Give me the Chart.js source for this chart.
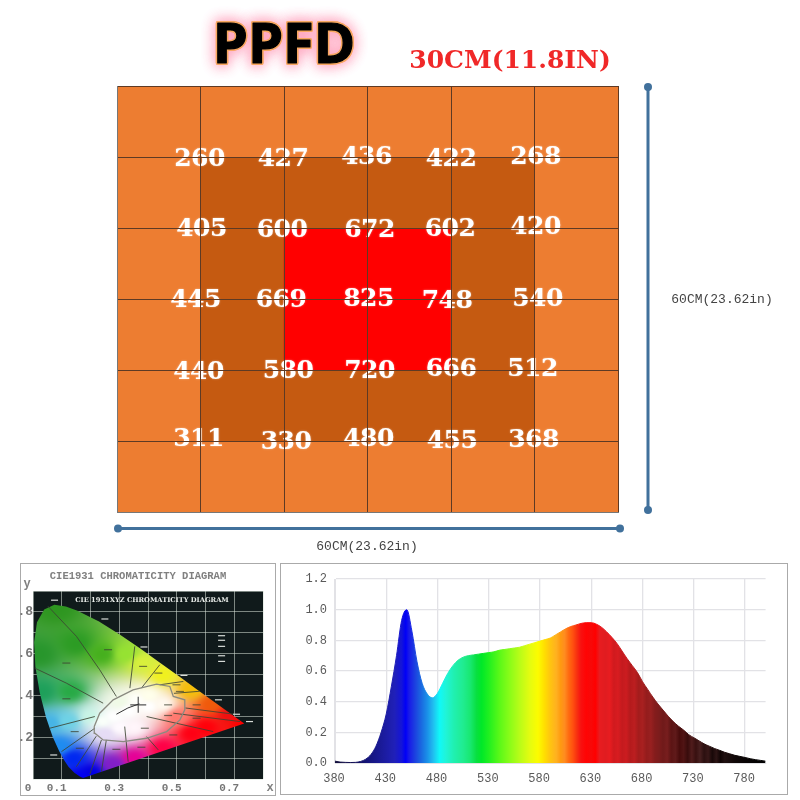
<!DOCTYPE html>
<html>
<head>
<meta charset="utf-8">
<title>PPFD</title>
<script src="https://cdn.jsdelivr.net/npm/chart.js@4/dist/chart.umd.min.js"></script>
<style>
    html, body { margin: 0; padding: 0; background: #fff; }
    body { position: relative; width: 800px; height: 800px; overflow: hidden; }
    canvas { position: absolute; display: block; }
    #ppfdChart { left: 0; top: 0; }
    #cieChart { left: 20px; top: 563px; filter: blur(0.5px); }
    #spectrumChart { left: 280px; top: 563px; filter: blur(0.3px); }
    .frame { position: absolute; border: 1.5px solid #aaa; box-sizing: border-box; }
</style>
</head>
<body>
<canvas id="ppfdChart" width="800" height="560"></canvas>
<div class="frame" style="left:20px;top:563px;width:256px;height:233px"></div>
<div class="frame" style="left:280px;top:563px;width:508px;height:232px"></div>
<canvas id="cieChart" width="255" height="232"></canvas>
<canvas id="spectrumChart" width="507" height="231"></canvas>
<script>
// PPFD readings, one per grid crossing
const ppfdRow1 = [260, 427, 436, 422, 268];
const ppfdRow2 = [405, 600, 672, 602, 420];
const ppfdRow3 = [445, 669, 825, 748, 540];
const ppfdRow4 = [440, 580, 720, 666, 512];
const ppfdRow5 = [311, 330, 480, 455, 368];
const ppfdRows = [ppfdRow1, ppfdRow2, ppfdRow3, ppfdRow4, ppfdRow5];

// cell shade level: 0 outer, 1 middle, 2 centre
const cellRow1 = [0, 0, 0, 0, 0, 0];
const cellRow2 = [0, 1, 1, 1, 1, 0];
const cellRow3 = [0, 1, 2, 2, 1, 0];
const cellRow4 = [0, 1, 2, 2, 1, 0];
const cellRow5 = [0, 1, 1, 1, 1, 0];
const cellRow6 = [0, 0, 0, 0, 0, 0];
const cellRows = [cellRow1, cellRow2, cellRow3, cellRow4, cellRow5, cellRow6];
const shadeColors = ['#ed7d31', '#c55a11', '#ff0000'];

// spectrum, relative intensity every 5 nm
const wavelengths = [380, 385, 390, 395, 400, 405, 410, 415, 420, 425, 430, 435, 440, 445, 450, 455, 460, 465, 470, 475, 480, 485, 490, 495, 500, 505, 510, 515, 520, 525, 530, 535, 540, 545, 550, 555, 560, 565, 570, 575, 580, 585, 590, 595, 600, 605, 610, 615, 620, 625, 630, 635, 640, 645, 650, 655, 660, 665, 670, 675, 680, 685, 690, 695, 700, 705, 710, 715, 720, 725, 730, 735, 740, 745, 750, 755, 760, 765, 770, 775, 780, 785, 790, 795, 800];
const intensity = [.012, .006, .004, .003, .004, .01, .025, .055, .11, .2, .32, .5, .7, .93, 1, .86, .66, .52, .45, .425, .455, .52, .585, .635, .67, .69, .7, .705, .71, .715, .72, .725, .735, .74, .745, .75, .755, .765, .775, .785, .795, .805, .815, .835, .855, .875, .89, .9, .91, .915, .915, .905, .885, .855, .82, .78, .73, .68, .635, .59, .53, .48, .43, .385, .345, .305, .27, .24, .215, .185, .165, .145, .125, .11, .095, .083, .07, .06, .05, .043, .036, .028, .022, .017, .012];
const spectrumXTicks = [380, 430, 480, 530, 580, 630, 680, 730, 780];
const spectrumYTicks = [0, 0.2, 0.4, 0.6, 0.8, 1.0, 1.2];

const bandNm = [380, 400, 412, 425, 438, 445, 449, 452, 458, 464, 470, 476, 482, 488, 496, 505, 512, 518, 523, 530, 540, 550, 560, 570, 578, 584, 590, 596, 600, 604, 608, 612, 616, 620, 625, 630, 634, 638, 644, 648, 652, 656, 660, 664, 668, 672, 676, 680, 684, 688, 692, 696, 700, 704, 708, 712, 716, 720, 724, 728, 732, 736, 740, 744, 748, 752, 756, 760, 770, 780, 800];
const bandColors = ['#14103c', '#12105a', '#14147a', '#1a1a98', '#2020b8', '#1414d8', '#0000f8', '#1818e8', '#1c40e0', '#1a68e0', '#1a90e8', '#20c0f0', '#10f8f8', '#20f4d8', '#20f0b0', '#20ec90', '#18e870', '#08e040', '#00e828', '#20f020', '#58f818', '#88fc18', '#b8fc18', '#e4fc10', '#fcfc00', '#ffe000', '#ffc410', '#ffb020', '#ff9a10', '#ff8c20', '#ff6a10', '#ff5010', '#f83010', '#f81010', '#ff0404', '#f80808', '#ff0000', '#e81c20', '#e01c20', '#e81c20', '#d01a1e', '#d81c20', '#c41a1e', '#cc1c20', '#b41a1c', '#bc1e20', '#a41c1c', '#a82020', '#941c1c', '#982020', '#841c1c', '#7c1c1c', '#701a1a', '#781e1e', '#5c1414', '#601a1a', '#480c0c', '#501414', '#380c0c', '#501c1c', '#381010', '#482020', '#2c1010', '#381818', '#180808', '#2c1414', '#100404', '#201010', '#100808', '#080404', '#000000'];

// CIE 1931 diagram
const locusX = [.1741, .1644, .1566, .144, .1241, .1096, .0913, .0687, .0454, .0235, .0082, .0039, .0139, .0389, .0743, .1142, .1547, .2296, .3016, .3731, .4441, .5125, .5752, .627, .6658, .6915, .7079, .726, .7347, .1741];
const locusY = [.005, .0109, .0177, .0297, .0578, .0868, .1327, .2007, .295, .4127, .5384, .6548, .7502, .812, .8338, .8262, .8059, .7543, .6923, .6245, .5547, .4866, .4242, .3725, .334, .3083, .292, .274, .2653, .005];
const whiteAreaX = [.213, .232, .279, .348, .43, .476, .488, .528, .528, .511, .465, .395, .314, .244, .215, .213];
const whiteAreaY = [.251, .315, .379, .427, .454, .443, .395, .379, .331, .283, .227, .195, .179, .187, .219, .251];
const regionLines = [
    [[.052, .827], [.151, .683], [.232, .523], [.29, .395]],
    [[.006, .531], [.116, .459], [.244, .363]],
    [[.354, .635], [.337, .435]],
    [[.441, .547], [.377, .435]],
    [[.523, .467], [.441, .451]],
    [[.58, .42], [.49, .41]],
    [[.058, .243], [.215, .299]],
    [[.099, .131], [.215, .243]],
    [[.22, .205], [.151, .059]],
    [[.238, .187], [.198, .024]],
    [[.255, .187], [.238, .035]],
    [[.319, .251], [.331, .083]],
    [[.395, .203], [.436, .139]],
    [[.488, .315], [.72, .275]],
    [[.395, .299], [.627, .227]],
    [[.53, .34], [.7, .31]]
];
const labelMarks = [[.261, .619], [.116, .555], [.116, .384], [.383, .539], [.436, .507], [.499, .451], [.511, .419], [.569, .355], [.569, .291], [.47, .304], [.47, .355], [.389, .243], [.145, .227], [.163, .147], [.29, .142], [.377, .152], [.488, .211]];
const whiteMarks = [[.656, .686], [.656, .664], [.656, .635], [.656, .59], [.656, .563], [.075, .856], [.25, .766], [.386, .632], [.525, .496], [.645, .379], [.708, .31], [.753, .275], [.072, .115]];
const planckian = [[.29, .31], [.33, .34], [.37, .36]];
const cieXLabels = [0, 0.1, 0.3, 0.5, 0.7];
const cieYLabels = [0.2, 0.4, 0.6, 0.8];

// colour anchors of the horseshoe: x, y, rgb
const cieAnchors = [
    [.08, .82, [46, 150, 32]], [.02, .6, [40, 150, 44]], [.15, .65, [44, 156, 36]], [.24, .6, [70, 176, 30]],
    [.32, .6, [150, 226, 50]], [.38, .56, [216, 240, 60]], [.45, .5, [240, 240, 30]], [.55, .43, [244, 190, 10]],
    [.62, .36, [240, 90, 10]], [.68, .31, [240, 16, 16]], [.73, .27, [255, 0, 0]], [.6, .25, [255, 0, 10]], [.55, .22, [255, 0, 20]],
    [.45, .15, [255, 0, 70]], [.35, .1, [230, 0, 150]], [.28, .07, [130, 30, 200]], [.2, .03, [0, 0, 225]],
    [.17, .01, [0, 0, 240]], [.14, .1, [0, 40, 240]], [.09, .16, [30, 140, 240]], [.06, .27, [70, 180, 230]],
    [.12, .28, [110, 210, 230]], [.03, .42, [30, 160, 90]], [.13, .42, [40, 170, 70]], [.2, .3, [200, 245, 230]],
    [.33, .33, [255, 255, 255]], [.28, .3, [255, 255, 255]], [.4, .35, [255, 255, 255]], [.45, .36, [255, 250, 240]],
    [.35, .25, [255, 245, 250]], [.4, .4, [255, 255, 235]], [.25, .22, [230, 220, 245]], [.5, .3, [255, 120, 110]],
    [.3, .37, [240, 250, 230]], [.36, .38, [255, 255, 250]], [.3, .25, [255, 250, 255]], [.24, .28, [250, 255, 250]]
];

const pts = (xs, ys) => xs.map((x, i) => ({ x: x, y: ys[i] }));
const pairs = (list) => list.map((p) => ({ x: p[0], y: p[1] }));
const monoFont = '"Liberation Mono", monospace';

// ---------- PPFD grid ----------
// small hand placement of the numbers around each crossing, px
const labelNudge = [
    [[-1, 2], [-1, 2], [-1, 0], [0, 2], [1, 0]],
    [[1, 1], [-2, 2], [2, 2], [-1, 1], [1, -1]],
    [[-5, 1], [-3, 1], [1, 0], [-4, 2], [3, 0]],
    [[-2, 2], [4, 1], [2, 1], [0, -1], [-2, -1]],
    [[-2, -2], [2, 1], [1, -2], [1, 0], [-1, -1]]
];

const ppfdDecor = {
    id: 'ppfdDecor',
    afterDatasetsDraw(chart) {
        const { ctx, scales: { x, y } } = chart;
        ctx.save();
        ctx.textAlign = 'center';
        ctx.textBaseline = 'middle';
        ctx.font = 'bold 25px "DejaVu Serif"';
        ctx.letterSpacing = '-0.6px';
        ppfdRows.forEach((row, r) => row.forEach((v, c) => {
            const n = labelNudge[r][c];
            ctx.shadowColor = 'rgba(255,255,255,0.5)';
            ctx.shadowBlur = 2;
            ctx.fillStyle = '#fff';
            ctx.fillText(v, x.getPixelForValue(c + 1) + n[0], y.getPixelForValue(r + 1) + n[1]);
        }));
        ctx.restore();
    },
    afterDraw(chart) {
        const { ctx, scales: { x, y } } = chart;
        ctx.save();
        // dimension lines
        const dim = (x0, y0, x1, y1) => {
            ctx.strokeStyle = ctx.fillStyle = '#41719c';
            ctx.lineWidth = 3;
            ctx.beginPath();
            ctx.moveTo(x0, y0);
            ctx.lineTo(x1, y1);
            ctx.stroke();
            [[x0, y0], [x1, y1]].forEach((p) => {
                ctx.beginPath();
                ctx.arc(p[0], p[1], 4, 0, Math.PI * 2);
                ctx.fill();
            });
        };
        dim(x.left + 1, y.bottom + 16.5, x.right + 2, y.bottom + 16.5);
        dim(x.right + 30, y.top + 1, x.right + 30, y.bottom - 2);

        ctx.textBaseline = 'alphabetic';
        ctx.textAlign = 'center';
        ctx.fillStyle = '#444';
        ctx.font = '13px ' + monoFont;
        ctx.fillText('60CM(23.62in)', 367, 550);
        ctx.fillText('60CM(23.62in)', 722, 303);

        ctx.fillStyle = '#f02828';
        ctx.font = 'bold 25px "DejaVu Serif"';
        ctx.fillText('30CM(11.8IN)', 510, 68);

        // title with halo
        ctx.font = 'bold 56px "Open Sans"';
        ctx.lineJoin = 'round';
        ctx.shadowColor = '#ff90b0';
        ctx.shadowBlur = 14;
        ctx.strokeStyle = '#f8a860';
        ctx.lineWidth = 4;
        ctx.strokeText('PPFD', 284, 63);
        ctx.strokeText('PPFD', 284, 63);
        ctx.shadowBlur = 0;
        ctx.fillStyle = '#000';
        ctx.strokeStyle = '#000';
        ctx.lineWidth = 1.2;
        ctx.strokeText('PPFD', 284, 63);
        ctx.fillText('PPFD', 284, 63);
        ctx.restore();
    }
};

const colCenters = [0.5, 1.5, 2.5, 3.5, 4.5, 5.5];

new Chart(document.getElementById('ppfdChart'), {
    type: 'bar',
    data: {
        datasets: cellRows.map((row) => ({
            data: colCenters.map((c) => ({ x: c, y: 1 })),
            backgroundColor: row.map((lvl) => shadeColors[lvl]),
            borderWidth: 0,
            barPercentage: 1,
            categoryPercentage: 1,
            stack: 'cells'
        }))
    },
    options: {
        responsive: false,
        animation: false,
        layout: { padding: { left: 117, right: 182, top: 86, bottom: 48 } },
        plugins: { legend: { display: false }, tooltip: { enabled: false } },
        scales: {
            x: {
                type: 'linear', min: 0, max: 6, stacked: true, offset: false,
                ticks: { display: false, stepSize: 1 },
                grid: { color: '#5e3a24', z: 1, drawTicks: false, offset: false },
                border: { color: '#777', width: 1, z: 2 }
            },
            y: {
                type: 'linear', min: 0, max: 6, reverse: true, stacked: true,
                ticks: { display: false, stepSize: 1 },
                grid: { color: '#5e3a24', z: 1, drawTicks: false },
                border: { color: '#777', width: 1, z: 2 }
            }
        }
    },
    plugins: [ppfdDecor]
});

// ---------- CIE diagram ----------
let ciePattern = null;
const cieFill = (context) => {
    const chart = context.chart;
    if (!chart.chartArea) return 'transparent';
    if (ciePattern) return ciePattern;
    const { left, right, top, bottom } = chart.chartArea;
    const off = document.createElement('canvas');
    off.width = chart.width;
    off.height = chart.height;
    const octx = off.getContext('2d');
    const img = octx.createImageData(off.width, off.height);
    for (let py = Math.floor(top); py < bottom; py++) {
        for (let px = Math.floor(left); px < right; px++) {
            const vx = chart.scales.x.getValueForPixel(px);
            const vy = chart.scales.y.getValueForPixel(py);
            let sum = 0, r = 0, g = 0, b = 0;
            cieAnchors.forEach((a) => {
                const d = (a[0] - vx) ** 2 + (a[1] - vy) ** 2 + 1e-4;
                const w = 1 / (d * Math.sqrt(d));
                sum += w;
                r += w * a[2][0];
                g += w * a[2][1];
                b += w * a[2][2];
            });
            const i = (py * off.width + px) * 4;
            img.data[i] = r / sum;
            img.data[i + 1] = g / sum;
            img.data[i + 2] = b / sum;
            img.data[i + 3] = 255;
        }
    }
    octx.putImageData(img, 0, 0);
    ciePattern = chart.ctx.createPattern(off, 'no-repeat');
    return ciePattern;
};

const cieDecor = {
    id: 'cieDecor',
    beforeDraw(chart) {
        const { ctx, chartArea: a } = chart;
        ctx.save();
        ctx.fillStyle = '#101a1b';
        ctx.fillRect(a.left, a.top, a.right - a.left, a.bottom - a.top);
        ctx.restore();
    },
    afterDraw(chart) {
        const { ctx } = chart;
        ctx.save();
        ctx.textBaseline = 'middle';
        ctx.textAlign = 'center';
        ctx.fillStyle = '#808080';
        ctx.font = 'bold 10.5px ' + monoFont;
        ctx.fillText('CIE1931 CHROMATICITY DIAGRAM', 118, 13);
        ctx.font = 'bold 12px ' + monoFont;
        ctx.fillText('y', 7, 21);
        ctx.fillText('x', 250, 225);
        ctx.fillStyle = '#e8ece8';
        ctx.font = 'bold 6.7px "DejaVu Serif"';
        ctx.fillText('CIE 1931XYZ CHROMATICITY DIAGRAM', 132, 37);
        ctx.restore();
    }
};

new Chart(document.getElementById('cieChart'), {
    type: 'scatter',
    data: {
        datasets: [
            { data: pts(locusX, locusY), showLine: true, fill: 'shape', backgroundColor: cieFill, borderColor: 'rgba(0,0,0,0)', borderWidth: 0, pointRadius: 0, order: 5 },
            ...regionLines.map((line) => ({ data: pairs(line), showLine: true, borderColor: 'rgba(60,68,50,0.85)', borderWidth: 1, pointRadius: 0, order: 3 })),
            { data: pts(whiteAreaX, whiteAreaY), showLine: true, borderColor: '#8a8a80', borderWidth: 1.3, pointRadius: 0, order: 2 },
            { data: pairs(planckian), showLine: true, borderColor: '#333', borderWidth: 1, pointRadius: 0, order: 1 },
            { data: [{ x: .366, y: .355 }], pointStyle: 'cross', pointRadius: 8, borderColor: '#555', borderWidth: 1.2, backgroundColor: '#555', order: 1 },
            { data: pairs(labelMarks), pointStyle: 'line', pointRadius: 4, borderColor: 'rgba(60,64,48,0.7)', borderWidth: 1.2, order: 1 },
            { data: pairs(whiteMarks), pointStyle: 'line', pointRadius: 3.5, borderColor: '#d8dcd8', borderWidth: 1.2, order: 1 }
        ]
    },
    options: {
        responsive: false,
        animation: false,
        layout: { padding: { left: 0, right: 12, top: 28, bottom: 0 } },
        plugins: { legend: { display: false }, tooltip: { enabled: false } },
        scales: {
            x: {
                type: 'linear', min: 0, max: 0.8,
                afterFit: (axis) => { axis.height = 16; },
                grid: { color: 'rgba(215,225,215,0.55)', drawTicks: false },
                border: { display: false },
                ticks: {
                    stepSize: 0.1, autoSkip: false, maxRotation: 0, padding: 3, labelOffset: -5,
                    color: '#777', font: { family: 'Liberation Mono', size: 11, weight: 'bold' },
                    callback: (v) => {
                        const t = Math.round(v * 10) / 10;
                        if (!cieXLabels.includes(t)) return '';
                        return t === 0 ? '0' : t.toFixed(1);
                    }
                }
            },
            y: {
                type: 'linear', min: 0, max: 0.9,
                afterFit: (axis) => { axis.width = 13; },
                grid: { color: 'rgba(215,225,215,0.55)', drawTicks: false },
                border: { display: false },
                ticks: {
                    stepSize: 0.1, autoSkip: false, padding: 0,
                    color: '#777', font: { family: 'Liberation Mono', size: 13, weight: 'bold' },
                    callback: (v) => {
                        const t = Math.round(v * 10) / 10;
                        return cieYLabels.includes(t) ? t.toFixed(1).slice(1) : '';
                    }
                }
            }
        }
    },
    plugins: [cieDecor]
});

// ---------- spectrum ----------
let bandGradient = null;
const spectrumFill = (context) => {
    const chart = context.chart;
    if (!chart.chartArea) return 'transparent';
    if (bandGradient) return bandGradient;
    const x = chart.scales.x;
    const x0 = x.getPixelForValue(380), x1 = x.getPixelForValue(800);
    bandGradient = chart.ctx.createLinearGradient(x0, 0, x1, 0);
    bandNm.forEach((nm, i) => bandGradient.addColorStop((nm - 380) / 420, bandColors[i]));
    return bandGradient;
};

new Chart(document.getElementById('spectrumChart'), {
    type: 'line',
    data: {
        datasets: [{
            data: pts(wavelengths, intensity),
            fill: 'origin',
            backgroundColor: spectrumFill,
            borderColor: spectrumFill,
            borderWidth: 1,
            pointRadius: 0,
            cubicInterpolationMode: 'monotone'
        }]
    },
    options: {
        responsive: false,
        animation: false,
        layout: { padding: { left: 0, right: 21.4, top: 16, bottom: 0 } },
        plugins: { legend: { display: false }, tooltip: { enabled: false } },
        scales: {
            x: {
                type: 'linear', min: 380, max: 800,
                afterFit: (axis) => { axis.height = 31; },
                afterBuildTicks: (axis) => { axis.ticks = spectrumXTicks.map((v) => ({ value: v })); },
                grid: { color: '#e2e2e6', lineWidth: 1.3, drawTicks: false },
                border: { color: '#e2e2e6' },
                ticks: {
                    autoSkip: false, maxRotation: 0, padding: 9, labelOffset: -1,
                    color: '#5a5a5a', font: { family: 'Liberation Mono', size: 12 }
                }
            },
            y: {
                type: 'linear', min: 0, max: 1.2,
                afterFit: (axis) => { axis.width = 55; },
                afterBuildTicks: (axis) => { axis.ticks = spectrumYTicks.map((v) => ({ value: v })); },
                grid: { color: '#e2e2e6', lineWidth: 1.3, drawTicks: false },
                border: { color: '#e2e2e6' },
                ticks: {
                    padding: 8,
                    color: '#5a5a5a', font: { family: 'Liberation Mono', size: 12 },
                    callback: (v) => v.toFixed(1)
                }
            }
        }
    }
});
</script>
</body>
</html>
